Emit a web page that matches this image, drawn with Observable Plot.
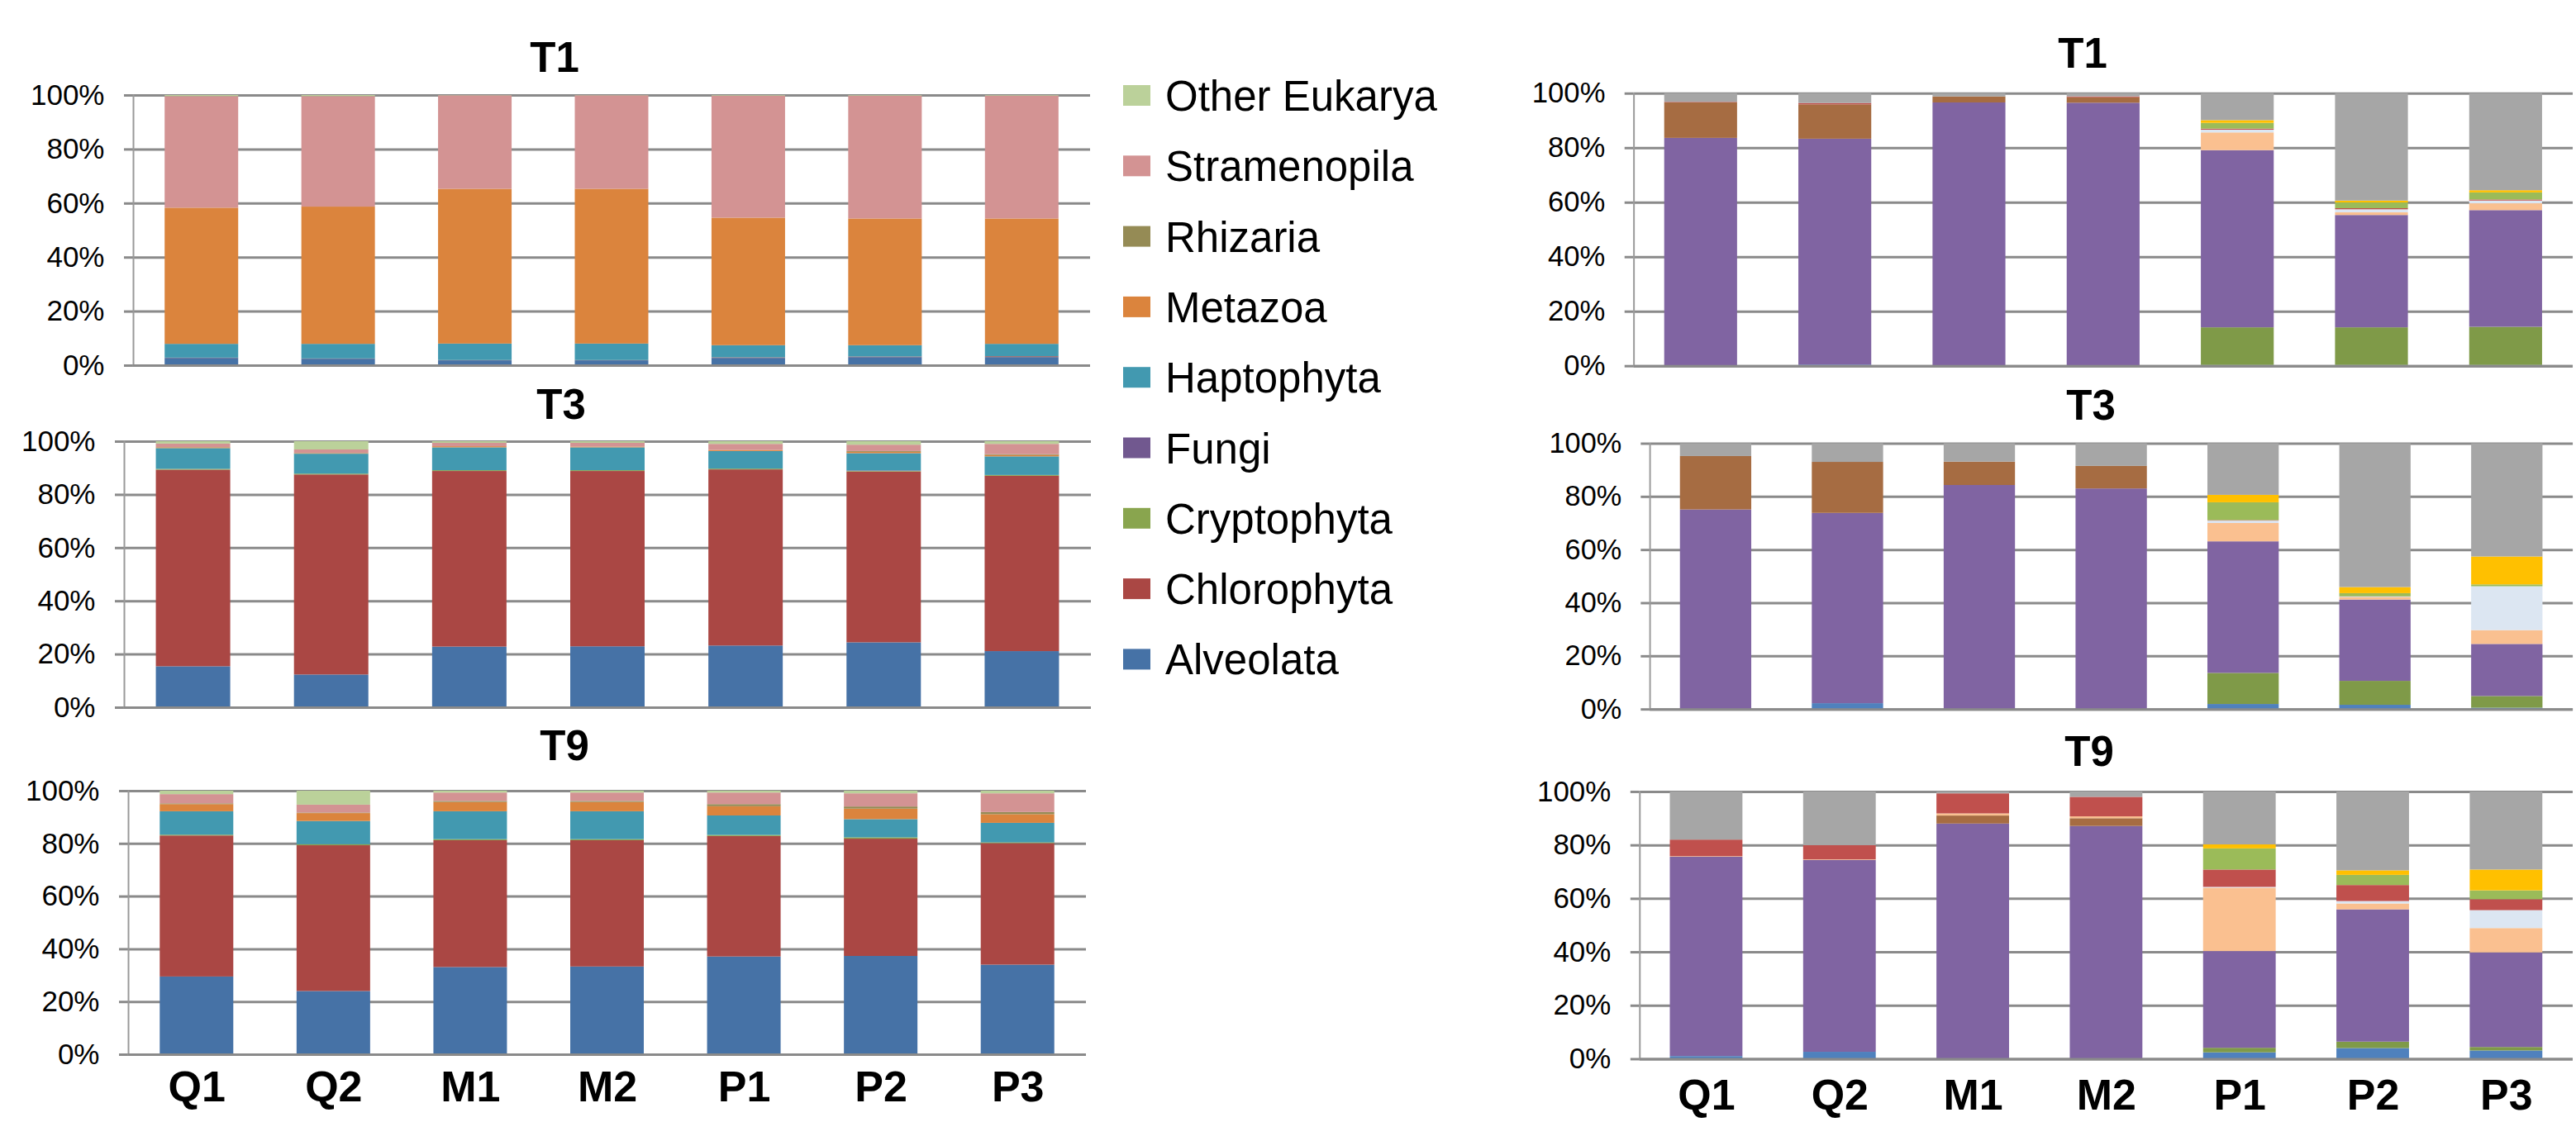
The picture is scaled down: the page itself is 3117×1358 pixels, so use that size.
<!DOCTYPE html>
<html>
<head>
<meta charset="utf-8">
<script src="https://cdn.jsdelivr.net/npm/d3@7"></script>
<script src="https://cdn.jsdelivr.net/npm/@observablehq/plot@0.6"></script>
<style>
  html, body { margin: 0; padding: 0; background: #fff; }
  body { width: 3117px; height: 1358px; overflow: hidden; position: relative; font-family: "Liberation Sans", Arial, sans-serif; }
  .panel { position: absolute; }
  #overlay { position: absolute; left: 0; top: 0; pointer-events: none; }
</style>
</head>
<body>
<script>
// ---------- DATA ----------
const categories = ["Q1", "Q2", "M1", "M2", "P1", "P2", "P3"];
const panelTitles = ["T1", "T3", "T9"];

// Left chart: eukaryotic groups (stack order bottom -> top)
const eukSeries = ["Alveolata", "Chlorophyta", "Cryptophyta", "Fungi", "Haptophyta", "Metazoa", "Rhizaria", "Stramenopila", "Other Eukarya"];
const eukColors = ["#4672A6", "#AA4744", "#89A54E", "#71588F", "#4299B0", "#DB843D", "#958B55", "#D39393", "#BBD19A"];

// rows = series (eukSeries order), columns = categories (percent)
const eukT1 = [
  [2.7, 2.4, 1.8, 1.8, 2.7, 3.0, 3.0],
  [0.1, 0.1, 0.1, 0.1, 0.2, 0.2, 0.3],
  [0, 0, 0, 0, 0, 0, 0],
  [0, 0, 0, 0, 0, 0, 0],
  [5.1, 5.4, 6.1, 6.1, 4.5, 4.2, 4.6],
  [50.4, 50.8, 57.3, 57.3, 47.2, 46.9, 46.4],
  [0, 0, 0, 0, 0, 0, 0],
  [41.3, 40.9, 34.6, 34.6, 45.2, 45.5, 45.5],
  [0.4, 0.4, 0.1, 0.1, 0.2, 0.2, 0.2]
];
const eukT3 = [
  [15.4, 12.3, 22.8, 22.9, 23.2, 24.4, 21.1],
  [73.9, 75.2, 66.0, 65.9, 66.2, 64.2, 65.9],
  [0.3, 0.3, 0.3, 0.3, 0.3, 0.2, 0.3],
  [0, 0, 0, 0, 0, 0.2, 0],
  [7.8, 7.5, 8.6, 8.6, 6.6, 6.5, 7.0],
  [0.3, 0.2, 0.4, 0.3, 0.4, 0.5, 0.5],
  [0.1, 0.1, 0, 0, 0, 0.3, 0.3],
  [1.3, 1.3, 1.3, 1.4, 2.3, 2.4, 3.9],
  [0.9, 3.1, 0.6, 0.6, 1.0, 1.3, 1.0]
];
const eukT9 = [
  [29.5, 24.0, 33.1, 33.3, 37.1, 37.3, 34.0],
  [53.5, 55.3, 48.1, 47.9, 45.7, 44.5, 46.1],
  [0.3, 0.4, 0.4, 0.4, 0.4, 0.5, 0.3],
  [0, 0, 0, 0, 0, 0, 0],
  [8.9, 8.8, 10.6, 10.6, 7.4, 6.9, 7.4],
  [2.7, 3.0, 3.5, 3.5, 3.5, 4.0, 3.3],
  [0.3, 0.2, 0.4, 0.4, 0.8, 0.8, 0.8],
  [3.5, 3.0, 3.2, 3.2, 4.4, 5.0, 7.1],
  [1.3, 5.3, 0.7, 0.7, 0.7, 1.0, 1.0]
];

// Right chart: groups whose legend is outside the picture (stack order bottom -> top)
const rightSeries = ["Group 1", "Group 2", "Group 3", "Group 4", "Group 5", "Group 6", "Group 7", "Group 8", "Group 9", "Group 10"];
const rightColors = ["#4F81BD", "#7F9A48", "#8064A2", "#A66C42", "#FAC090", "#DCE6F2", "#C0504D", "#9BBB59", "#FFC000", "#A6A6A6"];

const rightT1 = [
  [0.2, 0.4, 0, 0, 0.3, 0.3, 0.3],
  [0, 0, 0, 0, 13.8, 13.8, 14.0],
  [83.4, 82.9, 96.6, 96.5, 65.0, 41.2, 42.8],
  [13.0, 12.6, 2.2, 2.0, 0, 0, 0],
  [0, 0, 0, 0, 6.5, 1.0, 2.5],
  [0, 0, 0, 0, 1.0, 1.1, 1.0],
  [0.2, 0.5, 0, 0.3, 0.4, 0.4, 0.4],
  [0, 0, 0, 0, 2.1, 2.1, 2.6],
  [0, 0, 0, 0, 1.0, 0.7, 0.8],
  [3.2, 3.6, 1.2, 1.2, 9.9, 39.4, 35.6]
];
const rightT3 = [
  [0, 2.2, 0, 0, 1.9, 1.6, 0.5],
  [0, 0, 0, 0, 11.7, 9.0, 4.4],
  [75.1, 71.6, 84.3, 83.0, 49.5, 30.6, 19.6],
  [20.1, 19.2, 8.8, 8.5, 0, 0, 0],
  [0, 0, 0, 0, 6.9, 0.9, 5.2],
  [0, 0, 0, 0, 0.9, 0.2, 16.5],
  [0, 0, 0, 0, 0.2, 0.1, 0],
  [0, 0, 0, 0, 6.7, 1.2, 0.7],
  [0, 0, 0, 0, 2.8, 2.3, 10.5],
  [4.8, 7.0, 6.9, 8.5, 19.4, 54.1, 42.6]
];
const rightT9 = [
  [1.0, 2.6, 0, 0, 2.4, 4.0, 3.1],
  [0, 0, 0, 0, 1.7, 2.4, 1.3],
  [74.6, 71.8, 88.0, 87.1, 36.2, 49.5, 35.4],
  [0, 0, 3.0, 2.9, 0, 0, 0],
  [0.2, 0.2, 0.8, 0.7, 23.7, 2.2, 9.1],
  [0, 0, 0, 0, 0.3, 0.9, 6.7],
  [6.2, 5.3, 7.5, 7.3, 6.5, 6.0, 4.1],
  [0, 0, 0, 0, 7.9, 3.8, 3.3],
  [0, 0, 0, 0, 1.5, 1.7, 7.8],
  [18.0, 20.1, 0.7, 2.0, 19.8, 29.5, 29.2]
];

const yTicks = [0, 20, 40, 60, 80, 100];

// ---------- DRAWING ----------
const FONT = "'Liberation Sans', Arial, Helvetica, sans-serif";
const GRID = "#8a8a8a";

function longForm(matrix, series) {
  const out = [];
  series.forEach((s, i) => categories.forEach((c, j) => out.push({cat: c, series: s, value: matrix[i][j]})));
  return out;
}

function panel(cfg) {
  const L = cfg.x0 - 150, T = cfg.yTop - 25;
  const W = cfg.x1 - L + 4;
  const H = cfg.yBot - T + (cfg.showX ? 75 : 12);
  const step = (cfg.x1 - cfg.x0) / categories.length;
  const inset = (step - cfg.barW) / 2;
  const chart = Plot.plot({
    width: W, height: H,
    marginLeft: cfg.x0 - L, marginRight: L + W - cfg.x1,
    marginTop: cfg.yTop - T, marginBottom: T + H - cfg.yBot,
    style: {fontFamily: FONT, background: "transparent", color: "black", overflow: "visible"},
    x: {domain: categories, padding: 0, round: false, axis: null, label: null},
    y: {domain: [0, 100], axis: null, label: null},
    color: {domain: cfg.series, range: cfg.colors},
    marks: [
      Plot.gridY(yTicks, {stroke: GRID, strokeOpacity: 1, strokeWidth: 3}),
      Plot.axisY(yTicks, {label: null, tickSize: 11, tickPadding: 24, tickFormat: d => d + "%", fontSize: 35, stroke: GRID, strokeWidth: 3, fill: "black"}),
      Plot.barY(longForm(cfg.matrix, cfg.series), {x: "cat", y: "value", fill: "series", insetLeft: inset, insetRight: inset}),
      Plot.frame({anchor: "left", stroke: "#9a9a9a", strokeWidth: 2}),
      Plot.ruleY([0], {stroke: GRID, strokeWidth: 3}),
      cfg.showX ? Plot.axisX({label: null, tickSize: 0, tickPadding: cfg.xPad, fontSize: 52, fontWeight: "bold", fill: "black"}) : null
    ]
  });
  const div = document.createElement("div");
  div.className = "panel";
  div.style.left = L + "px";
  div.style.top = T + "px";
  div.appendChild(chart);
  document.body.appendChild(div);
}

const eukMatrices = [eukT1, eukT3, eukT9];
const rightMatrices = [rightT1, rightT3, rightT9];
const leftGeom = [
  {x0: 161, x1: 1319, yTop: 115, yBot: 442, barW: 89},
  {x0: 150, x1: 1320, yTop: 534, yBot: 856, barW: 90},
  {x0: 155, x1: 1314, yTop: 957, yBot: 1276, barW: 89, showX: true, xPad: 20}
];
const rightGeom = [
  {x0: 1978, x1: 3125, yTop: 113, yBot: 446, barW: 89},
  {x0: 1999, x1: 3138, yTop: 537, yBot: 865, barW: 88},
  {x0: 1984, x1: 3115, yTop: 958, yBot: 1282, barW: 88, showX: true, xPad: 24}
];
leftGeom.forEach((g, i) => panel({...g, matrix: eukMatrices[i], series: eukSeries, colors: eukColors}));
rightGeom.forEach((g, i) => panel({...g, matrix: rightMatrices[i], series: rightSeries, colors: rightColors}));

// Titles and legend
const svg = d3.select("body").append("svg")
  .attr("id", "overlay").attr("width", 3117).attr("height", 1358)
  .style("font-family", FONT);

const leftTitlePos = [[671, 87], [679, 507], [683, 920]];
const rightTitlePos = [[2520, 82], [2530, 508], [2528, 927]];
panelTitles.forEach((t, i) => {
  [leftTitlePos[i], rightTitlePos[i]].forEach(([x, y]) => {
    svg.append("text").attr("x", x).attr("y", y).attr("text-anchor", "middle")
      .attr("font-size", 51).attr("font-weight", "bold").attr("fill", "black").text(t);
  });
});

const legendOrder = eukSeries.map((s, i) => ({s, c: eukColors[i]})).reverse();
legendOrder.forEach((d, i) => {
  const base = 134 + i * 85.3;
  svg.append("rect").attr("x", 1359).attr("y", base - 31).attr("width", 33).attr("height", 25).attr("fill", d.c);
  svg.append("text").attr("x", 1410).attr("y", base)
    .attr("font-size", 51).attr("fill", "black").text(d.s);
});
</script>
</body>
</html>
